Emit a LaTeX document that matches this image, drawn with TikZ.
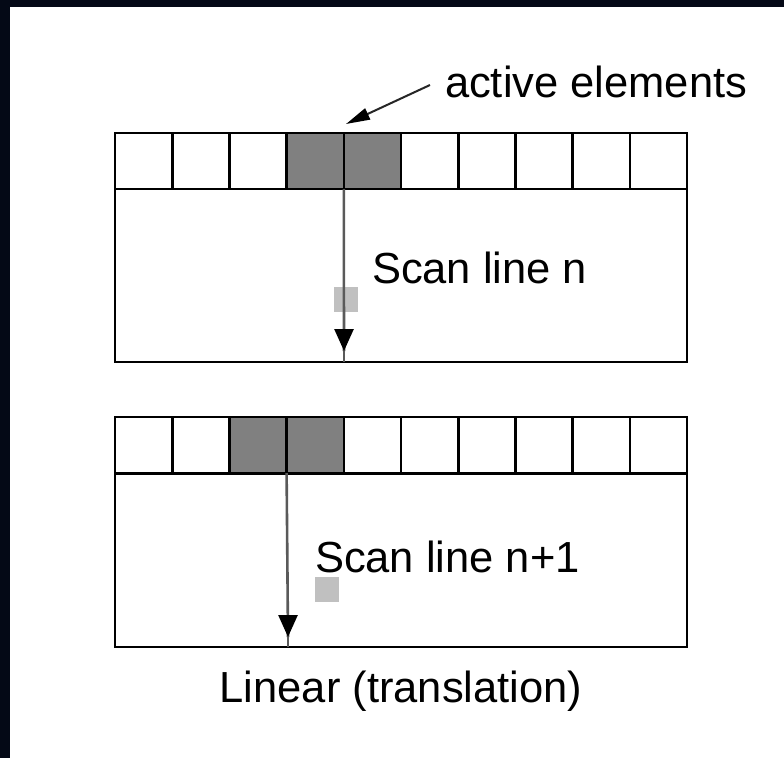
\documentclass[tikz,border=0pt]{standalone}
\usepackage{fontspec}
\setmainfont{Liberation Sans}
\usetikzlibrary{arrows.meta}
\definecolor{navy}{RGB}{4,9,22}
\definecolor{activegray}{RGB}{128,128,128}
\definecolor{markgray}{RGB}{192,192,192}
\definecolor{shaftgray}{RGB}{90,90,90}
\begin{document}
\begin{tikzpicture}[x=1pt,y=-1pt,
  cell/.style={draw=black, line width=2.6pt, minimum width=57.2pt, minimum height=56pt, inner sep=0pt, outer sep=0pt, anchor=north west},
  activecell/.style={cell, fill=activegray},
  body/.style={draw=black, line width=2.6pt, minimum width=572pt, minimum height=173pt, inner sep=0pt, outer sep=0pt, anchor=north west},
  marker/.style={fill=markgray, minimum width=24pt, minimum height=25pt, inner sep=0pt, outer sep=0pt, anchor=north west},
  lbl/.style={inner sep=0pt, outer sep=0pt, anchor=base west, font=\fontsize{43.5}{50}\selectfont},
  shaft/.style={draw=shaftgray, line width=2.6pt},
  headtip/.style={-{Triangle[length=22pt,width=19pt,color=black,fill=black]}},
  leader/.style={draw=black!85, line width=2pt, -{Triangle[length=24pt,width=12pt,color=black,fill=black]}}
]
\useasboundingbox (0,0) rectangle (784,758);
\fill[white] (0,0) rectangle (784,758);
\fill[navy] (0,0) rectangle (784,7);
\fill[navy] (0,0) rectangle (10,758);

% ---- top scan line ----
\node[body] (bodyA) at (115,189) {};
\foreach \i in {0,...,9} {
  \node[cell] (a\i) at ({115+57.2*\i},133) {};
}
\node[activecell] (a3) at ({115+57.2*3},133) {};
\node[activecell] (a4) at ({115+57.2*4},133) {};
\node[marker] (mA) at (334,287) {};
\coordinate (tipA) at (344,351);
\draw[shaft] (a4.south west) -- (tipA);
\draw[shaft] (tipA) -- (bodyA.south -| tipA);
\draw[shaft, headtip] (344,330) -- (tipA);
\node[lbl] (scanA) at (372,283) {Scan line n};

% ---- label ----
\node[lbl] (act) at (445,97) {active elements};
\coordinate (leadstart) at (430,85);
\coordinate (leadtip) at (346,124);
\draw[leader] (leadstart) -- (leadtip);

% ---- bottom scan line ----
\node[body] (bodyB) at (115,474) {};
\foreach \i in {0,...,9} {
  \node[cell] (b\i) at ({115+57.2*\i},417) {};
}
\node[activecell] (b2) at ({115+57.2*2},417) {};
\node[activecell] (b3) at ({115+57.2*3},417) {};
\node[marker] (mB) at (315,577) {};
\coordinate (tipB) at (288,637);
\draw[shaft] (b3.south west) -- (tipB);
\draw[shaft] (tipB) -- (bodyB.south -| tipB);
\draw[shaft, headtip] (288,615) -- (tipB);
\node[lbl] (scanB) at (315,572) {Scan line n+1};

% ---- caption ----
\node[lbl, anchor=base] (cap) at (401,702) {Linear (translation)};
\end{tikzpicture}
\end{document}
